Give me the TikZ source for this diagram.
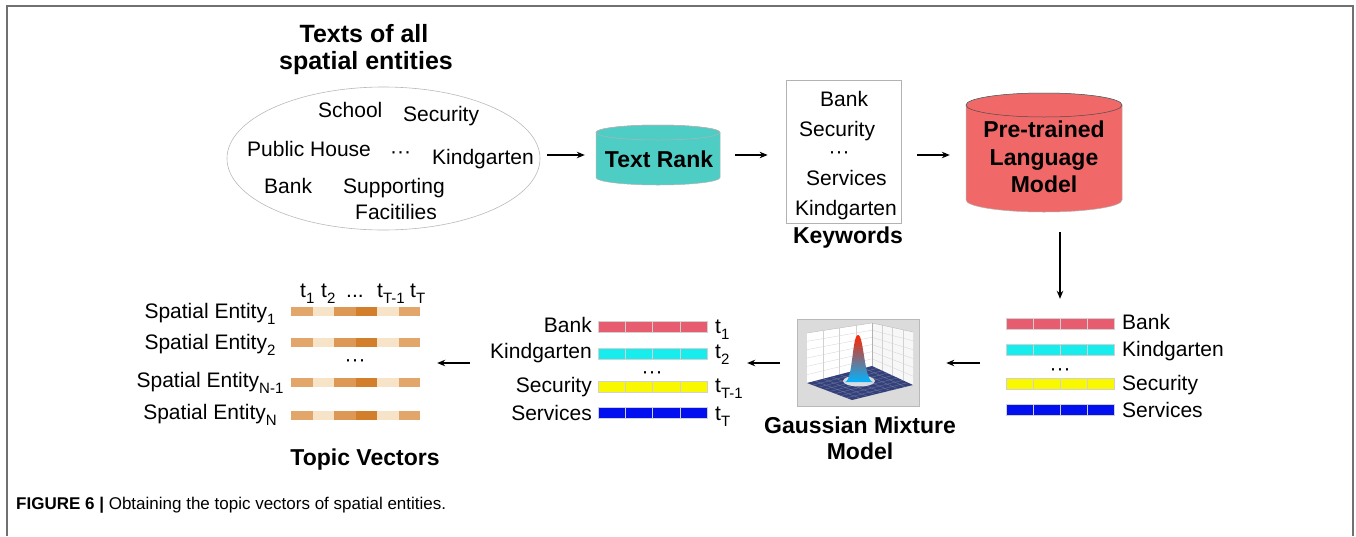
\documentclass[tikz,border=0pt]{standalone}
\usepackage{fontspec}
\setmainfont{Liberation Sans}
\usetikzlibrary{arrows.meta,shapes.geometric}
\definecolor{teal1}{RGB}{78,205,196}
\definecolor{red1}{RGB}{241,104,104}
\definecolor{pinkbar}{RGB}{232,92,112}
\definecolor{cyanbar}{RGB}{24,236,236}
\definecolor{yelbar}{RGB}{250,248,0}
\definecolor{bluebar}{RGB}{2,16,240}
\definecolor{tvA}{RGB}{226,166,106}
\definecolor{tvB}{RGB}{247,227,200}
\definecolor{tvC}{RGB}{222,152,86}
\definecolor{tvD}{RGB}{210,126,42}
\definecolor{framecol}{RGB}{112,112,112}
\definecolor{navy}{RGB}{52,64,122}
\newcommand\mysub[1]{\raisebox{-0.32em}{\fontsize{15}{15}\selectfont #1}}
\begin{document}
\begin{tikzpicture}[x=1pt,y=-1pt,
  lbl/.style={font=\fontsize{21}{25}\selectfont, inner sep=0pt},
  ttl/.style={font=\fontsize{23}{27}\selectfont\bfseries, inner sep=0pt},
  arr/.style={-{Stealth[length=8pt,width=6.5pt]}, line width=1.2pt},
  ghost/.style={inner sep=0pt, draw=none}]
\useasboundingbox (0,0) rectangle (1356,536);
% frame
\draw[framecol, line width=2pt] (7,536) -- (7,6) -- (1353,6) -- (1353,536);

% ---- top row ----
\node[ttl,anchor=base,font=\fontsize{25}{29}\selectfont\bfseries] (ttlA) at (364,42) {Texts of all};
\node[ttl,anchor=base,font=\fontsize{25}{29}\selectfont\bfseries] (ttlB) at (366,69) {spatial entities};
\node[ellipse, draw=gray!55, line width=0.6pt, minimum width=313pt, minimum height=143pt, inner sep=0pt] (ell) at (383.5,158.5) {};
\node[lbl,anchor=base west] (eSchool) at (318,117) {School};
\node[lbl,anchor=base west] (eSec) at (403,121) {Security};
\node[lbl,anchor=base west] (ePub) at (247,156) {Public House};
\node[lbl,anchor=base west] (eDots) at (390,158) {···};
\node[lbl,anchor=base west] (eKind) at (432,164) {Kindgarten};
\node[lbl,anchor=base west] (eBank) at (264,193) {Bank};
\node[lbl,anchor=base west] (eSup) at (343,193) {Supporting};
\node[lbl,anchor=base west] (eFac) at (355,219) {Facitilies};

% Text Rank cylinder
\node[ghost, minimum width=124pt, minimum height=60pt] (tr) at (658,155) {};
\filldraw[fill=teal1, draw=gray!60, line width=0.5pt]
  (596,132.5) -- (596,177.5) arc[start angle=180,end angle=360,x radius=62pt,y radius=7.5pt]
  -- (720,132.5) arc[start angle=0,end angle=180,x radius=62pt,y radius=7.5pt] -- cycle;
\draw[gray!60, line width=0.5pt] (658,132.5) ellipse [x radius=62pt, y radius=7.5pt];
\node[ttl,anchor=base] (trText) at (659,167) {Text Rank};

% Keywords box
\node[draw=gray!60, line width=0.8pt, minimum width=115pt, minimum height=143pt, inner sep=0pt] (kw) at (843.5,151.5) {};
\node[lbl,anchor=base west] (kBank) at (820,106) {Bank};
\node[lbl,anchor=base west] (kSec) at (799,136) {Security};
\node[lbl,anchor=base] (kDots) at (839,158) {···};
\node[lbl,anchor=base west] (kServ) at (806,185) {Services};
\node[lbl,anchor=base west] (kKind) at (795,215) {Kindgarten};
\node[ttl,anchor=base] (kwTitle) at (848,243) {Keywords};

% Pre-trained LM cylinder
\node[ghost, minimum width=156pt, minimum height=119pt] (plm) at (1044,152.5) {};
\filldraw[fill=red1, draw=gray!60, line width=0.5pt]
  (966,105) -- (966,200) arc[start angle=180,end angle=360,x radius=78pt,y radius=12pt]
  -- (1122,105) arc[start angle=0,end angle=180,x radius=78pt,y radius=12pt] -- cycle;
\draw[gray!60!black, line width=0.5pt] (1044,105) ellipse [x radius=78pt, y radius=12pt];
\node[ttl,anchor=base] (plmA) at (1044,137) {Pre-trained};
\node[ttl,anchor=base] (plmB) at (1044,165) {Language};
\node[ttl,anchor=base] (plmC) at (1044,192) {Model};

% ---- embeddings (right) ----
\node[ghost, minimum width=108pt, minimum height=97pt] (emb) at (1060,366.5) {};
\foreach \col/\yt in {pinkbar/318, cyanbar/344, yelbar/378, bluebar/404}{
  \foreach \k in {0,...,3}{
    \draw[draw=black!18, line width=0.5pt, fill=\col] ({1006+27*\k},\yt) rectangle ++(27,11);
  }
}
\node[lbl,anchor=base west] (bBank) at (1122,329) {Bank};
\node[lbl,anchor=base west] (bKind) at (1122,356) {Kindgarten};
\node[lbl,anchor=base] (bDots) at (1060,375) {···};
\node[lbl,anchor=base west] (bSec) at (1122,390) {Security};
\node[lbl,anchor=base west] (bServ) at (1122,417) {Services};

% ---- Gaussian mixture model picture ----
\node[draw=gray!55, fill=gray!28, line width=0.6pt, minimum width=122pt, minimum height=87pt, inner sep=0pt] (gmm) at (858,363) {};
\fill[white] (807,333) -- (872,323) -- (872,366) -- (807,383) -- cycle;
\fill[white!94!gray] (872,323) -- (913,332) -- (913,385) -- (872,366) -- cycle;
\foreach \f in {1,...,5}{
  \draw[gray!35, line width=0.3pt] (807,{333+\f*50/6}) -- (872,{323+\f*43/6});
  \draw[gray!35, line width=0.3pt] (872,{323+\f*43/6}) -- (913,{332+\f*53/6});
}
\foreach \f in {1,2,3}{
  \draw[gray!35, line width=0.3pt] ({807+\f*65/4},{333-\f*10/4}) -- ({807+\f*65/4},{383-\f*17/4});
  \draw[gray!35, line width=0.3pt] ({872+\f*41/4},{323+\f*9/4}) -- ({872+\f*41/4},{366+\f*19/4});
}
\draw[gray!60, line width=0.3pt] (807,333) -- (872,323) -- (913,332);
\draw[gray!60, line width=0.3pt] (872,323) -- (872,366);
\fill[navy] (807,383) -- (872,366) -- (913,385) -- (852,400) -- cycle;
\foreach \f in {1,...,7}{
  \draw[navy!60!white, line width=0.2pt] ({807+\f*65/8},{383-\f*17/8}) -- ({852+\f*61/8},{400-\f*15/8});
  \draw[navy!60!white, line width=0.2pt] ({807+\f*45/8},{383+\f*17/8}) -- ({872+\f*41/8},{366+\f*19/8});
}
\fill[gray!15, opacity=0.9] (859,381) ellipse [x radius=16pt, y radius=5.5pt];
\shade[top color=red!70!orange, middle color=yellow!80!green, bottom color=cyan!70!blue]
  (845,382) .. controls (853,381) and (852,335) .. (858,335)
  .. controls (864,335) and (864,381) .. (873,382) -- cycle;
\node[ttl,anchor=base] (gA) at (860,433) {Gaussian Mixture};
\node[ttl,anchor=base] (gB) at (860,459) {Model};

% ---- topics (middle) ----
\node[ghost, minimum width=109pt, minimum height=98pt] (mid) at (652.5,370) {};
\foreach \col/\yt in {pinkbar/321, cyanbar/348, yelbar/381, bluebar/407}{
  \foreach \k in {0,...,3}{
    \draw[draw=black!18, line width=0.5pt, fill=\col] ({598+27.25*\k},\yt) rectangle ++(27.25,11.5);
  }
}
\node[lbl,anchor=base east] (mBank) at (592,332) {Bank};
\node[lbl,anchor=base east] (mKind) at (592,358) {Kindgarten};
\node[lbl,anchor=base] (mDots) at (652,378) {···};
\node[lbl,anchor=base east] (mSec) at (592,392) {Security};
\node[lbl,anchor=base east] (mServ) at (592,420) {Services};
\node[lbl,anchor=base west] (mt1) at (715,333) {t\mysub{1}};
\node[lbl,anchor=base west] (mt2) at (715,358) {t\mysub{2}};
\node[lbl,anchor=base west] (mt3) at (715,392) {t\mysub{T-1}};
\node[lbl,anchor=base west] (mt4) at (715,420) {t\mysub{T}};

% ---- topic vectors (left) ----
\node[ghost, minimum width=129pt, minimum height=112pt] (tv) at (355.5,363) {};
\foreach \yt in {307,338,378,411}{
  \foreach \col [count=\k from 0] in {tvA,tvB,tvC,tvD,tvB,tvA}{
    \fill[\col] ({291+21.5*\k},\yt) rectangle ++(21.5,8.5);
  }
}
\node[lbl,anchor=base west] (h1) at (300,297) {t\mysub{1}};
\node[lbl,anchor=base west] (h2) at (321,297) {t\mysub{2}};
\node[lbl,anchor=base west] (h3) at (346,297) {...};
\node[lbl,anchor=base west] (h4) at (377,297) {t\mysub{T-1}};
\node[lbl,anchor=base west] (h5) at (410,297) {t\mysub{T}};
\node[lbl,anchor=base] (s1) at (210,318) {Spatial Entity\mysub{1}};
\node[lbl,anchor=base] (s2) at (210,349) {Spatial Entity\mysub{2}};
\node[lbl,anchor=base] (sDots) at (355,366) {···};
\node[lbl,anchor=base] (s3) at (210,387) {Spatial Entity\mysub{N-1}};
\node[lbl,anchor=base] (s4) at (210,419) {Spatial Entity\mysub{N}};
\node[ttl,anchor=base] (tvTitle) at (365,465) {Topic Vectors};

% ---- arrows ----
\draw[arr, shorten <=7pt, shorten >=11pt] (ell.east |- tr.west) -- (tr.west);
\draw[arr, shorten <=15pt, shorten >=18pt] (tr.east) -- (kw.west |- tr.east);
\draw[arr, shorten <=16pt, shorten >=16pt] (kw.east |- tr.east) -- (plm.west |- tr.east);
\draw[arr, shorten <=20pt, shorten >=19pt] (emb.north |- plm.south) -- (emb.north);
\draw[arr, shorten <=26pt, shorten >=27pt] (emb.west |- gmm.east) -- (gmm.east);
\draw[arr, shorten <=17pt, shorten >=40pt] (gmm.west) -- (mid.east |- gmm.west);
\draw[arr, shorten <=128pt, shorten >=17pt] (mid.west |- tv.east) -- (tv.east);

% caption
\node[anchor=base west, inner sep=0pt, font=\fontsize{17}{20}\selectfont] (cap) at (16,509) {\textbf{FIGURE 6 |} Obtaining the topic vectors of spatial entities.};
\end{tikzpicture}
\end{document}
